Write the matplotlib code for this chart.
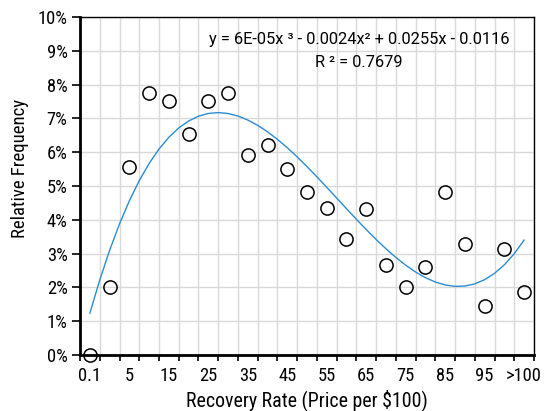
import numpy as np
import matplotlib
matplotlib.use('Agg')
import matplotlib.pyplot as plt
from matplotlib.ticker import FuncFormatter, FixedLocator

# relative frequency (%) per recovery-rate bucket, 23 buckets
freq_pct = [0.0, 2.01, 5.55, 7.75, 7.51, 6.54, 7.51, 7.75, 5.93, 6.20, 5.50,
            4.81, 4.35, 3.44, 4.33, 2.66, 2.00, 2.60, 4.81, 3.29, 1.45, 3.13, 1.86]
tick_labels = ['0.1', '5', '15', '25', '35', '45', '55', '65', '75', '85', '95', '>100']
eq_text = 'y = 6E-05x \u00b3 - 0.0024x\u00b2 + 0.0255x - 0.0116'
r2_text = 'R \u00b2 = 0.7679'

narrow = ['Roboto Condensed', 'Barlow Semi Condensed', 'DejaVu Sans']

freq = np.array(freq_pct) / 100.0
x = np.arange(1, len(freq) + 1)

# cubic trendline, like the spreadsheet one
coef = np.polyfit(x, freq, 3)
xt = np.arange(1, len(freq) + 0.01, 0.5)
yt = np.polyval(coef, xt)

fig = plt.figure(figsize=(5.47, 4.11), dpi=100)
ax = fig.add_axes([0.1463, 0.1363, 0.8299, 0.8223])

ax.plot(xt, yt, color='#2b8cd2', lw=1.0, zorder=3)
ax.plot(x, freq, 'o', ms=9.5, mfc='none', mec='black', mew=1.1, zorder=4, clip_on=False)

ax.set_xlim(0.5, len(freq) + 0.5)
ax.set_ylim(0, 0.10)

ax.xaxis.set_major_locator(FixedLocator(np.arange(1, len(freq) + 1, 2)))
ax.set_xticklabels(tick_labels, fontfamily=narrow, fontsize=13.3)
ax.xaxis.set_minor_locator(FixedLocator(np.arange(0.5, len(freq) + 1, 1)))
ax.tick_params(axis='x', which='major', length=0, pad=9)
ax.tick_params(axis='x', which='minor', length=4, width=1.2, direction='out', color='black')

ax.set_yticks(np.arange(0, 0.101, 0.01))
ax.yaxis.set_major_formatter(FuncFormatter(lambda v, p: '%d%%' % round(v * 100)))
ax.tick_params(axis='y', length=6, width=1.2, pad=3)
for lab in ax.get_yticklabels():
    lab.set_fontfamily(narrow)
    lab.set_fontsize(13.3)

ax.grid(False)
ax.grid(True, axis='x', which='minor', color='#d9d9d9', lw=1.0, zorder=0)
ax.grid(True, axis='y', which='major', color='#d9d9d9', lw=1.0, zorder=0)
ax.set_axisbelow(True)

ax.spines['left'].set_linewidth(2.0)
ax.spines['bottom'].set_linewidth(2.0)
ax.spines['top'].set_linewidth(1.0)
ax.spines['right'].set_linewidth(1.0)

ax.set_xlabel('Recovery Rate (Price per $100)', fontfamily=narrow, fontsize=14.3, labelpad=3)
ax.set_ylabel('Relative Frequency', fontfamily=narrow, fontsize=13.5)
ax.yaxis.set_label_coords(-0.113, 0.553)

ax.text(0.615, 0.932, eq_text, transform=ax.transAxes, ha='center', va='center',
        fontfamily='Roboto', fontsize=11.8)
ax.text(0.615, 0.866, r2_text, transform=ax.transAxes, ha='center', va='center',
        fontfamily='Roboto', fontsize=11.8)

fig.savefig('out.png', dpi=100)
